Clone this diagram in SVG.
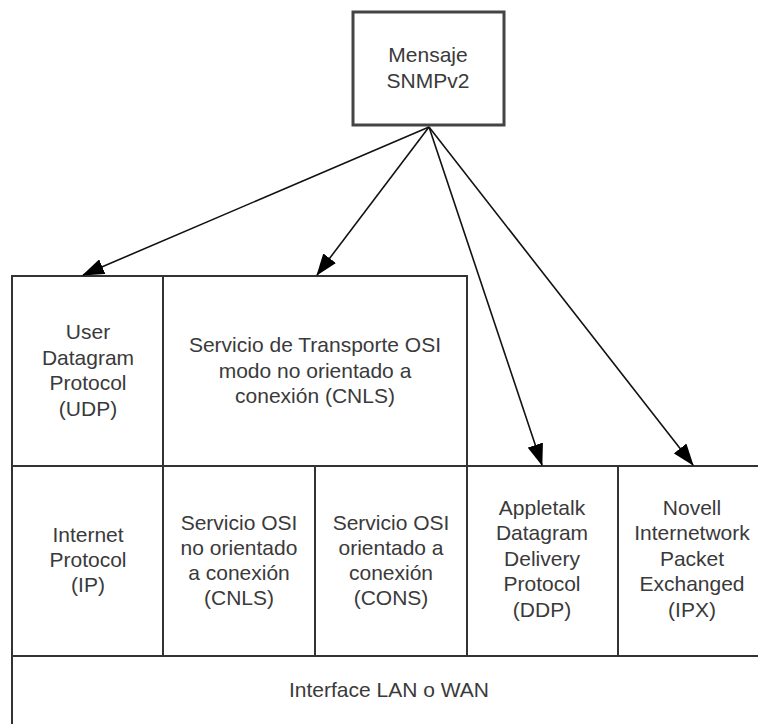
<svg xmlns="http://www.w3.org/2000/svg" width="758" height="724" viewBox="0 0 758 724">
<defs>
<style>
text{font-family:"Liberation Sans",Arial,sans-serif;font-size:21px;fill:#3a3a3a;text-anchor:middle}
.g{stroke:#333;stroke-width:2;fill:none}
.c{stroke:#111;stroke-width:1.6;fill:none}
</style>
<marker id="ah" markerUnits="userSpaceOnUse" markerWidth="22" markerHeight="16" viewBox="0 0 22 16" refX="21" refY="8" orient="auto">
<path d="M0,0 L22,8 L0,16 z" fill="#000"/>
</marker>
</defs>
<rect width="758" height="724" fill="#fff"/>
<g id="mensaje">
<rect x="353" y="12" width="151" height="113" fill="#fff" stroke="#444" stroke-width="3"/>
<text x="428" y="62">Mensaje</text>
<text x="428" y="88">SNMPv2</text>
</g>
<g id="grid" class="g">
<line x1="12" y1="276" x2="12" y2="724"/>
<line x1="11" y1="276" x2="468" y2="276"/>
<line x1="467" y1="276" x2="467" y2="656"/>
<line x1="163" y1="276" x2="163" y2="656"/>
<line x1="11" y1="466" x2="758" y2="466"/>
<line x1="315" y1="466" x2="315" y2="656"/>
<line x1="618" y1="466" x2="618" y2="656"/>
<line x1="11" y1="656" x2="758" y2="656"/>
</g>
<g id="udp">
<text x="88" y="339">User</text>
<text x="88" y="364.5">Datagram</text>
<text x="88" y="390">Protocol</text>
<text x="88" y="415.5">(UDP)</text>
</g>
<g id="cnls-transporte">
<text x="315" y="352">Servicio de Transporte OSI</text>
<text x="315" y="377.5">modo no orientado a</text>
<text x="315" y="403">conexión (CNLS)</text>
</g>
<g id="ip">
<text x="88" y="542">Internet</text>
<text x="88" y="567">Protocol</text>
<text x="88" y="592">(IP)</text>
</g>
<g id="cnls">
<text x="239" y="530">Servicio OSI</text>
<text x="239" y="555">no orientado</text>
<text x="239" y="580">a conexión</text>
<text x="239" y="605">(CNLS)</text>
</g>
<g id="cons">
<text x="391" y="530">Servicio OSI</text>
<text x="391" y="555">orientado a</text>
<text x="391" y="580">conexión</text>
<text x="391" y="605">(CONS)</text>
</g>
<g id="ddp">
<text x="542" y="515">Appletalk</text>
<text x="542" y="540">Datagram</text>
<text x="542" y="565.5">Delivery</text>
<text x="542" y="591">Protocol</text>
<text x="542" y="616.5">(DDP)</text>
</g>
<g id="ipx">
<text x="692" y="515">Novell</text>
<text x="692" y="540">Internetwork</text>
<text x="692" y="565.5">Packet</text>
<text x="692" y="591">Exchanged</text>
<text x="692" y="616.5">(IPX)</text>
</g>
<g id="lan-wan">
<text x="389" y="697">Interface LAN o WAN</text>
</g>
<g id="connectors" class="c">
<line x1="429" y1="127" x2="83" y2="275" marker-end="url(#ah)"/>
<line x1="429" y1="127" x2="317" y2="275" marker-end="url(#ah)"/>
<line x1="429" y1="127" x2="542" y2="465" marker-end="url(#ah)"/>
<line x1="429" y1="127" x2="693" y2="465" marker-end="url(#ah)"/>
</g>
</svg>
